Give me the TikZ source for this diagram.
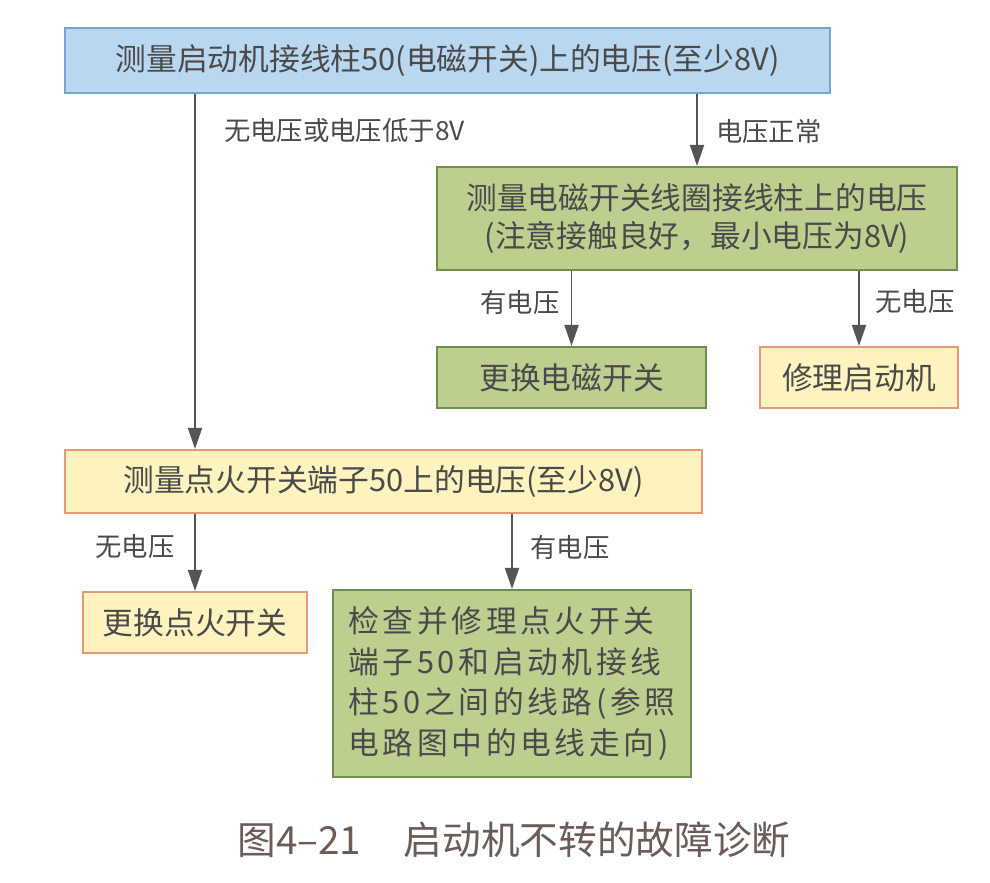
\documentclass[tikz,border=0pt]{standalone}
\usepackage{fontspec}
\setmainfont{Noto Sans CJK SC}
\newfontfamily\cjkwide[LetterSpace=12]{Noto Sans CJK SC}
\usetikzlibrary{arrows.meta}

\definecolor{bluefill}{HTML}{BAD7F0}
\definecolor{blueline}{HTML}{7BA3D0}
\definecolor{greenfill}{HTML}{BDCF8F}
\definecolor{greenline}{HTML}{6F8F4E}
\definecolor{yellowfill}{HTML}{FEF3BF}
\definecolor{yellowline}{HTML}{E69A78}
\definecolor{txtgray}{HTML}{4A4A4A}
\definecolor{linegray}{HTML}{555555}
\definecolor{capgray}{HTML}{6B5C57}

\begin{document}
\begin{tikzpicture}[
  x=0.02cm, y=-0.02cm,
  box/.style={rectangle, draw, line width=1.2pt, text=txtgray, font=\fontsize{17.5}{22}\selectfont, inner sep=2pt},
  bluebox/.style={box, fill=bluefill, draw=blueline},
  greenbox/.style={box, fill=greenfill, draw=greenline},
  yellowbox/.style={box, fill=yellowfill, draw=yellowline},
  lbl/.style={text=txtgray, font=\fontsize{15}{18}\selectfont},
  arr/.style={-{Triangle[length=12pt, width=8pt]}, line width=1.1pt, linegray},
]
  \useasboundingbox (0,0) rectangle (990,882);

  % Boxes
  \node[bluebox, minimum width=15.3cm, minimum height=1.3cm] (startmeas) at (447.5,60.5)
    {测量启动机接线柱50(电磁开关)上的电压(至少8V)};
  \node[greenbox, minimum width=10.4cm, minimum height=2.06cm, align=center] (coilmeas) at (697,218.5)
    {测量电磁开关线圈接线柱上的电压\\(注意接触良好，最小电压为8V)};
  \node[greenbox, minimum width=5.38cm, minimum height=1.22cm] (swapsol) at (571.5,377.5)
    {更换电磁开关};
  \node[yellowbox, minimum width=3.96cm, minimum height=1.22cm] (fixstarter) at (859,377.5)
    {修理启动机};
  \node[yellowbox, minimum width=12.74cm, minimum height=1.26cm] (ignmeas) at (383.5,481.5)
    {测量点火开关端子50上的电压(至少8V)};
  \node[yellowbox, minimum width=4.48cm, minimum height=1.22cm] (swapign) at (195,622.5)
    {更换点火开关};
  \node[greenbox, minimum width=7.16cm, minimum height=3.74cm, align=left,
        font=\fontsize{17.5}{23}\selectfont] (checkwire) at (512,683.5)
    {\cjkwide 检查并修理点火开关\\\cjkwide 端子50和启动机接线\\\cjkwide 柱50之间的线路(参照\\\cjkwide 电路图中的电线走向)};

  % Connectors
  \draw[arr] (startmeas.south -| swapign) -- (ignmeas.north -| swapign);
  \draw[arr] (startmeas.south -| coilmeas) -- (coilmeas.north);
  \draw[arr] (coilmeas.south -| swapsol) -- (swapsol.north);
  \draw[arr] (coilmeas.south -| fixstarter) -- (fixstarter.north);
  \draw[arr] (ignmeas.south -| swapign) -- (swapign.north);
  \draw[arr] (ignmeas.south -| checkwire) -- (checkwire.north);

  % Labels
  \node[lbl, anchor=west] (lowvolt) at (218,131) {无电压或电压低于8V};
  \node[lbl, anchor=west] (okvolt) at (710,131) {电压正常};
  \node[lbl] (solyes) at (520,302) {有电压};
  \node[lbl] (solno) at (915,302) {无电压};
  \node[lbl] (ignno) at (135,547) {无电压};
  \node[lbl] (ignyes) at (570,547) {有电压};

  % Caption
  \node[text=capgray, font=\fontsize{22}{26}\selectfont] (caption) at (514,840)
    {图4–21\hspace{1.1em}启动机不转的故障诊断};
\end{tikzpicture}
\end{document}
